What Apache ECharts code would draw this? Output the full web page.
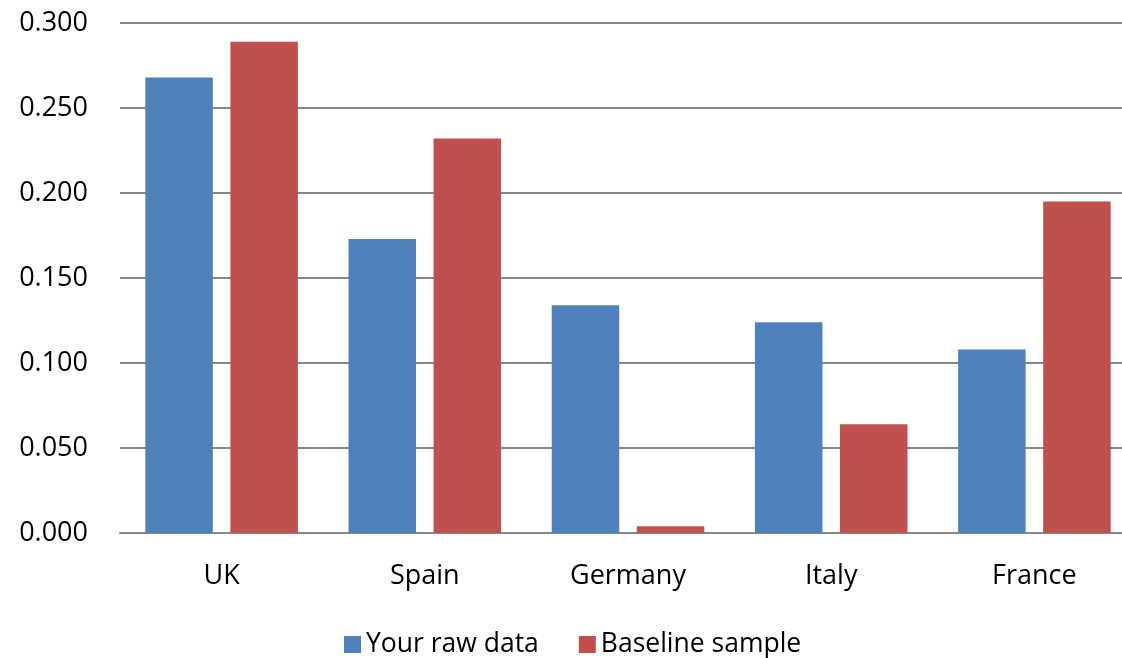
<!DOCTYPE html>
<html>
<head>
<meta charset="utf-8">
<script src="https://cdn.jsdelivr.net/npm/echarts@6/dist/echarts.min.js"></script>
<style>
  html, body { margin: 0; padding: 0; background: #fff; }
  #chart { width: 1122px; height: 658px; }
</style>
</head>
<body>
<div id="chart"></div>
<script>
// Country categories along the x axis
const countries = ['UK', 'Spain', 'Germany', 'Italy', 'France'];
// Series values per country
const rawData = [0.268, 0.173, 0.134, 0.124, 0.108];
const baselineSample = [0.289, 0.232, 0.004, 0.064, 0.195];
// Value axis range
const yMin = 0, yMax = 0.3, yStep = 0.05;

const font = '"Open Sans", "Noto Sans", sans-serif';
const gridColor = '#878787';

const chart = echarts.init(document.getElementById('chart'));
chart.setOption({
  animation: false,
  textStyle: { fontFamily: font },
  grid: {
    left: 120, width: 1016, top: 23, bottom: 125,
    containLabel: false, outerBoundsMode: 'none'
  },
  legend: {
    bottom: -5,
    left: 339,
    itemWidth: 17,
    itemHeight: 17,
    itemGap: 40,
    icon: 'rect',
    textStyle: { fontFamily: font, fontSize: 26.5, color: '#000' },
    data: ['Your raw data', 'Baseline sample']
  },
  xAxis: {
    type: 'category',
    data: countries,
    axisLine: { lineStyle: { color: gridColor, width: 2 } },
    axisTick: { show: false },
    axisLabel: { fontFamily: font, fontSize: 27, color: '#000', margin: 30 }
  },
  yAxis: {
    type: 'value',
    min: yMin,
    max: yMax,
    interval: yStep,
    axisLine: { show: false },
    axisTick: { show: false },
    splitLine: { lineStyle: { color: gridColor, width: 2 } },
    axisLabel: {
      fontFamily: font, fontSize: 27, color: '#000', margin: 32,
      formatter: v => v.toFixed(3)
    }
  },
  series: [
    {
      name: 'Your raw data',
      type: 'bar',
      data: rawData,
      barWidth: 67.5,
      barGap: '26%',
      itemStyle: { color: '#4F81BD' }
    },
    {
      name: 'Baseline sample',
      type: 'bar',
      data: baselineSample,
      barWidth: 67.5,
      barGap: '26%',
      itemStyle: { color: '#C0504D' }
    }
  ]
});
</script>
</body>
</html>
